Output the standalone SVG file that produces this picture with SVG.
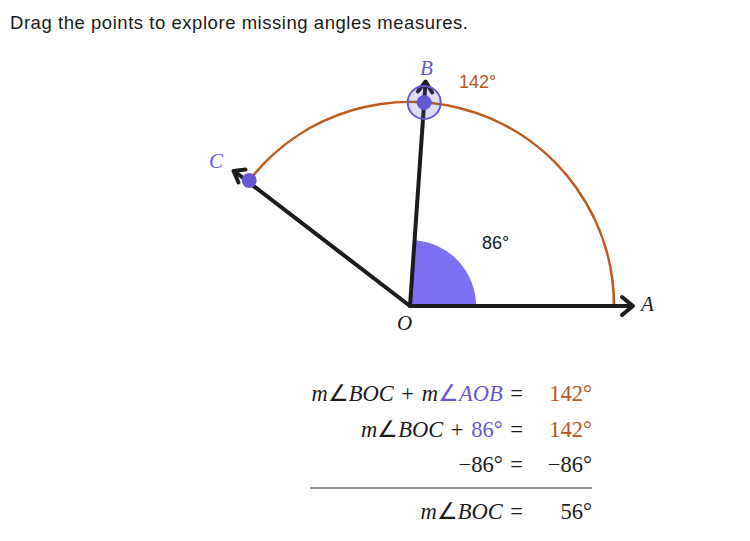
<svg xmlns="http://www.w3.org/2000/svg" width="750" height="541" viewBox="0 0 750 541">
<style>
.ray{stroke:#1c1c1c;stroke-width:4;fill:none;stroke-linecap:round}
.head{stroke:#1c1c1c;stroke-width:4;fill:none;stroke-linecap:round;stroke-linejoin:round}
.arc{stroke:#BF5B1C;stroke-width:2.6;fill:none}
.lbl{font-family:"Liberation Serif",serif;font-style:italic;font-size:21px}
.sans{font-family:"Liberation Sans",Arial,sans-serif}
.eq{font-family:"Liberation Serif",serif;font-size:22.5px;fill:#1a1a1a;word-spacing:2px}
.i{font-style:italic}
.pur{fill:#6657D3}
.org{fill:#B8561E}
</style>
<rect width="750" height="541" fill="#ffffff"/>
<text class="sans" x="10" y="29" font-size="18.5" fill="#1a1a1a" textLength="458" lengthAdjust="spacing">Drag the points to explore missing angles measures.</text>
<g id="wedge">
<path d="M410 306 L476 306 A66 66 0 0 0 414.6 240.2 Z" fill="#7D70F3"/>
</g>
<g id="arc">
<path class="arc" d="M614 306 A204 204 0 0 0 249.2 180.4"/>
</g>
<g id="connectors">
<line class="ray" x1="410" y1="306" x2="632" y2="306"/>
<polyline class="head" points="622,297 633,306 622,315"/>
<line class="ray" x1="410" y1="306" x2="425.5" y2="83"/>
<polyline class="head" points="417.8,91.5 425.6,81.5 432.2,92.5"/>
<line class="ray" x1="410" y1="306" x2="234" y2="171"/>
<polyline class="head" points="238.5,182.5 233.5,171 245.5,169.5"/>
</g>
<g id="O"><text class="lbl" x="397" y="330" fill="#1a1a1a">O</text></g>
<g id="A"><text class="lbl" x="641" y="311" fill="#1a1a1a">A</text></g>
<g id="B">
<circle cx="424.2" cy="102.5" r="16.5" fill="#6657D3" fill-opacity="0.2" stroke="#6657D3" stroke-width="2"/>
<circle cx="424.2" cy="102.5" r="7.5" fill="#6657D3"/>
<text class="lbl pur" x="420" y="75">B</text>
</g>
<g id="C">
<circle cx="249.2" cy="180.4" r="7.5" fill="#6657D3"/>
<text class="lbl pur" x="209" y="168">C</text>
</g>
<text class="sans org" x="459" y="88" font-size="18">142°</text>
<text class="sans" x="482" y="249" font-size="18" fill="#1a1a1a">86°</text>
<g id="equations">
<text class="eq" x="523" y="401" text-anchor="end"><tspan class="i">m</tspan>∠<tspan class="i">BOC</tspan> + <tspan class="i">m</tspan><tspan class="pur">∠<tspan class="i">AOB</tspan></tspan> =</text>
<text class="eq org" x="592" y="401" text-anchor="end">142°</text>
<text class="eq" x="523" y="437" text-anchor="end"><tspan class="i">m</tspan>∠<tspan class="i">BOC</tspan> + <tspan class="pur">86°</tspan> =</text>
<text class="eq org" x="592" y="437" text-anchor="end">142°</text>
<text class="eq" x="523" y="472" text-anchor="end">−86° =</text>
<text class="eq" x="592" y="472" text-anchor="end">−86°</text>
<line x1="310" y1="488" x2="592" y2="488" stroke="#1a1a1a" stroke-width="1.2"/>
<text class="eq" x="523" y="519" text-anchor="end"><tspan class="i">m</tspan>∠<tspan class="i">BOC</tspan> =</text>
<text class="eq" x="592" y="519" text-anchor="end">56°</text>
</g>
</svg>
